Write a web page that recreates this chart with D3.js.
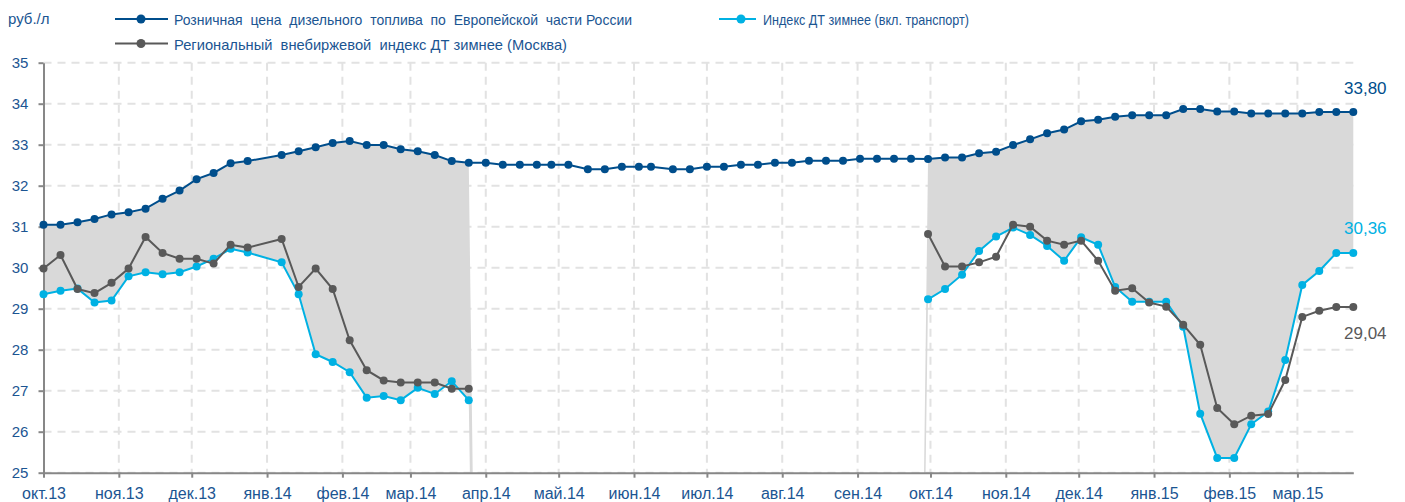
<!DOCTYPE html>
<html>
<head>
<meta charset="utf-8">
<script src="https://cdn.jsdelivr.net/npm/d3@7"></script>
<style>
    body { margin: 0; background: #fff; }
    text { font-family: "Liberation Sans", Arial, sans-serif; }
</style>
</head>
<body>
<div id="chart"></div>
<script>
// weekly observation dates (no quotes around New Year 2014)
const dates = [
    "2013-10-01", "2013-10-08", "2013-10-15", "2013-10-22", "2013-10-29", "2013-11-05", "2013-11-12",
    "2013-11-19", "2013-11-26", "2013-12-03", "2013-12-10", "2013-12-17", "2013-12-24", "2014-01-07",
    "2014-01-14", "2014-01-21", "2014-01-28", "2014-02-04", "2014-02-11", "2014-02-18", "2014-02-25",
    "2014-03-04", "2014-03-11", "2014-03-18", "2014-03-25",
    "2014-04-01", "2014-04-08", "2014-04-15", "2014-04-22", "2014-04-28", "2014-05-05", "2014-05-13",
    "2014-05-20", "2014-05-27", "2014-06-03", "2014-06-08", "2014-06-17", "2014-06-24", "2014-07-01",
    "2014-07-08", "2014-07-15", "2014-07-22", "2014-07-29", "2014-08-05", "2014-08-12", "2014-08-19",
    "2014-08-26", "2014-09-02", "2014-09-09", "2014-09-16", "2014-09-23",
    "2014-09-30", "2014-10-07", "2014-10-14", "2014-10-21", "2014-10-28", "2014-11-04", "2014-11-11",
    "2014-11-18", "2014-11-25", "2014-12-02", "2014-12-09", "2014-12-16", "2014-12-23", "2014-12-30",
    "2015-01-06", "2015-01-13", "2015-01-20", "2015-01-27", "2015-02-03", "2015-02-10", "2015-02-17",
    "2015-02-24", "2015-03-03", "2015-03-10", "2015-03-17", "2015-03-24"
];

const retailPrice = [
    31.05, 31.05, 31.11, 31.19, 31.30, 31.35, 31.44, 31.68, 31.88, 32.16, 32.31, 32.55, 32.60,
    32.75, 32.84, 32.94, 33.04, 33.09, 32.99, 32.99, 32.89, 32.84, 32.75, 32.60, 32.56,
    32.56, 32.51, 32.51, 32.51, 32.51, 32.51, 32.40, 32.40, 32.46, 32.46, 32.46, 32.40, 32.40,
    32.46, 32.46, 32.51, 32.51, 32.56, 32.56, 32.61, 32.61, 32.61, 32.66, 32.66, 32.66, 32.66,
    32.65, 32.69, 32.69, 32.79, 32.83, 32.99, 33.13, 33.28, 33.37, 33.57, 33.61, 33.68, 33.72,
    33.72, 33.72, 33.87, 33.87, 33.81, 33.81, 33.76, 33.76, 33.76, 33.76, 33.80, 33.80, 33.80
];

const winterIndex = [
    29.35, 29.44, 29.49, 29.15, 29.20, 29.79, 29.89, 29.84, 29.89, 30.03, 30.22, 30.46, 30.37,
    30.13, 29.35, 27.89, 27.70, 27.45, 26.83, 26.87, 26.77, 27.07, 26.92, 27.23, 26.77,
    null, null, null, null, null, null, null, null, null, null, null, null, null,
    null, null, null, null, null, null, null, null, null, null, null, null, null,
    29.23, 29.48, 29.83, 30.41, 30.76, 30.98, 30.80, 30.53, 30.17, 30.74, 30.56, 29.53, 29.17,
    29.17, 29.17, 28.56, 26.44, 25.36, 25.36, 26.18, 26.49, 27.75, 29.58, 29.92, 30.36, 30.36
];

const regionalIndex = [
    29.98, 30.31, 29.48, 29.38, 29.63, 29.98, 30.75, 30.36, 30.22, 30.22, 30.10, 30.56, 30.49,
    30.70, 29.53, 29.98, 29.48, 28.23, 27.50, 27.25, 27.20, 27.20, 27.20, 27.05, 27.05,
    null, null, null, null, null, null, null, null, null, null, null, null, null,
    null, null, null, null, null, null, null, null, null, null, null, null, null,
    30.82, 30.03, 30.03, 30.13, 30.27, 31.05, 31.00, 30.66, 30.56, 30.66, 30.17, 29.44, 29.50,
    29.15, 29.05, 28.61, 28.12, 26.58, 26.18, 26.39, 26.43, 27.26, 28.80, 28.95, 29.04, 29.04
];

const monthLabels = [
    "окт.13", "ноя.13", "дек.13", "янв.14", "фев.14", "мар.14", "апр.14", "май.14", "июн.14",
    "июл.14", "авг.14", "сен.14", "окт.14", "ноя.14", "дек.14", "янв.15", "фев.15", "мар.15"
];
const yTicks = [25, 26, 27, 28, 29, 30, 31, 32, 33, 34, 35];

const seriesNames = [
    "Розничная  цена  дизельного  топлива  по  Европейской  части России",
    "Индекс ДТ зимнее (вкл. транспорт)",
    "Региональный  внебиржевой  индекс ДТ зимнее (Москва)"
];

const W = 1405, H = 502;
const plot = { left: 43.5, right: 1353.3, top: 62.7, bottom: 472.7 };
const colors = { retail: '#004e8c', winter: '#00b1e3', regional: '#595959', fill: '#d9d9d9',
    grid: '#e2e2e2', axis: '#878787', label: '#1b5592' };

const parse = d3.utcParse('%Y-%m-%d');
const data = dates.map((d, i) => ({
    date: parse(d),
    retail: retailPrice[i],
    winter: winterIndex[i],
    regional: regionalIndex[i]
}));

const x = d3.scaleUtc()
    .domain([data[0].date, data[data.length - 1].date])
    .range([plot.left, plot.right]);

const y = d3.scaleLinear()
    .domain([25, 35])
    .range([plot.bottom, plot.top]);

const monthTicks = d3.utcMonth.range(data[0].date, data[data.length - 1].date);

const svg = d3.select('#chart')
    .append('svg')
    .attr('width', W)
    .attr('height', H);

svg.append('defs')
    .append('clipPath')
    .attr('id', 'plotClip')
    .append('rect')
    .attr('x', plot.left)
    .attr('y', plot.top)
    .attr('width', plot.right - plot.left + 2)
    .attr('height', plot.bottom - plot.top);

// grid
svg.append('g')
    .selectAll('line')
    .data(yTicks)
    .enter()
    .append('line')
    .attr('x1', plot.left)
    .attr('x2', plot.right)
    .attr('y1', d => y(d))
    .attr('y2', d => y(d))
    .attr('stroke', colors.grid)
    .attr('stroke-width', 2)
    .attr('stroke-dasharray', '8,6');

svg.append('g')
    .selectAll('line')
    .data(monthTicks.slice(1))
    .enter()
    .append('line')
    .attr('x1', d => x(d))
    .attr('x2', d => x(d))
    .attr('y1', plot.top)
    .attr('y2', plot.bottom)
    .attr('stroke', colors.grid)
    .attr('stroke-width', 2)
    .attr('stroke-dasharray', '8,6');

// band between retail price and winter index (stacked-area style, drops to 0 off-season)
const band = d3.area()
    .x(d => x(d.date))
    .y0(d => y(d.winter != null ? d.winter : 0))
    .y1(d => y(d.winter != null ? d.retail : 0));

svg.append('path')
    .datum(data)
    .attr('clip-path', 'url(#plotClip)')
    .attr('fill', colors.fill)
    .attr('d', band);

// axes
const xAxis = svg.append('g')
    .attr('transform', `translate(0,${plot.bottom})`)
    .call(d3.axisBottom(x)
        .tickValues(monthTicks)
        .tickSize(5)
        .tickSizeOuter(0)
        .tickFormat((d, i) => monthLabels[i]));

xAxis.select('.domain').attr('stroke', colors.axis).attr('stroke-width', 2);
xAxis.selectAll('.tick line').attr('stroke', colors.axis).attr('stroke-width', 2);
xAxis.selectAll('.tick text')
    .attr('y', 26)
    .attr('dy', 0)
    .attr('fill', colors.label)
    .style('font-size', '16px');

const yAxis = svg.append('g')
    .attr('transform', `translate(${plot.left},0)`)
    .call(d3.axisLeft(y)
        .tickValues(yTicks)
        .tickSize(5)
        .tickSizeOuter(0)
        .tickFormat(d3.format('d')));

yAxis.select('.domain').attr('stroke', colors.axis).attr('stroke-width', 2);
yAxis.selectAll('.tick line').attr('stroke', colors.axis).attr('stroke-width', 2);
yAxis.selectAll('.tick text')
    .attr('x', -15.2)
    .attr('dy', '0.35em')
    .attr('fill', colors.label)
    .style('font-size', '15px');

svg.append('text')
    .attr('x', 8)
    .attr('y', 24)
    .attr('fill', colors.label)
    .style('font-size', '15px')
    .text('руб./л');

// series
const series = [
    { key: 'retail', color: colors.retail },
    { key: 'winter', color: colors.winter },
    { key: 'regional', color: colors.regional }
];

series.forEach(s => {
    const line = d3.line()
        .defined(d => d[s.key] != null)
        .x(d => x(d.date))
        .y(d => y(d[s.key]));

    svg.append('path')
        .datum(data)
        .attr('fill', 'none')
        .attr('stroke', s.color)
        .attr('stroke-width', 2)
        .attr('d', line);

    svg.append('g')
        .selectAll('circle')
        .data(data.filter(d => d[s.key] != null))
        .enter()
        .append('circle')
        .attr('cx', d => x(d.date))
        .attr('cy', d => y(d[s.key]))
        .attr('r', 4)
        .attr('fill', s.color);
});

// end labels
const last = data[data.length - 1];
const fmt = v => d3.format('.2f')(v).replace('.', ',');
const endLabels = [
    { key: 'retail', color: colors.retail, dy: -17.6 },
    { key: 'winter', color: colors.winter, dy: -18.9 },
    { key: 'regional', color: colors.regional, dy: 32.2 }
];
svg.append('g')
    .selectAll('text')
    .data(endLabels)
    .enter()
    .append('text')
    .attr('x', x(last.date) + 12)
    .attr('y', d => y(last[d.key]) + d.dy)
    .attr('text-anchor', 'middle')
    .attr('fill', d => d.color)
    .style('font-size', '17px')
    .text(d => fmt(last[d.key]));

// legend (text widths squeezed to match the original narrow rendering)
const legendItems = [
    { name: seriesNames[0], color: colors.retail, x1: 115, x2: 168, cx: 141, tx: 174, cy: 19, w: 458 },
    { name: seriesNames[1], color: colors.winter, x1: 719, x2: 756, cx: 741, tx: 763, cy: 19, w: 206 },
    { name: seriesNames[2], color: colors.regional, x1: 115, x2: 168, cx: 141, tx: 174, cy: 43.5, w: 393 }
];

const legend = svg.append('g');
legendItems.forEach(it => {
    legend.append('line')
        .attr('x1', it.x1)
        .attr('x2', it.x2)
        .attr('y1', it.cy)
        .attr('y2', it.cy)
        .attr('stroke', it.color)
        .attr('stroke-width', 2);
    legend.append('circle')
        .attr('cx', it.cx)
        .attr('cy', it.cy)
        .attr('r', 4.5)
        .attr('fill', it.color);
    legend.append('text')
        .attr('x', it.tx)
        .attr('y', it.cy + 6.3)
        .attr('fill', colors.label)
        .attr('textLength', it.w)
        .attr('lengthAdjust', 'spacingAndGlyphs')
        .style('font-size', '15px')
        .style('white-space', 'pre')
        .text(it.name);
});
</script>
</body>
</html>
